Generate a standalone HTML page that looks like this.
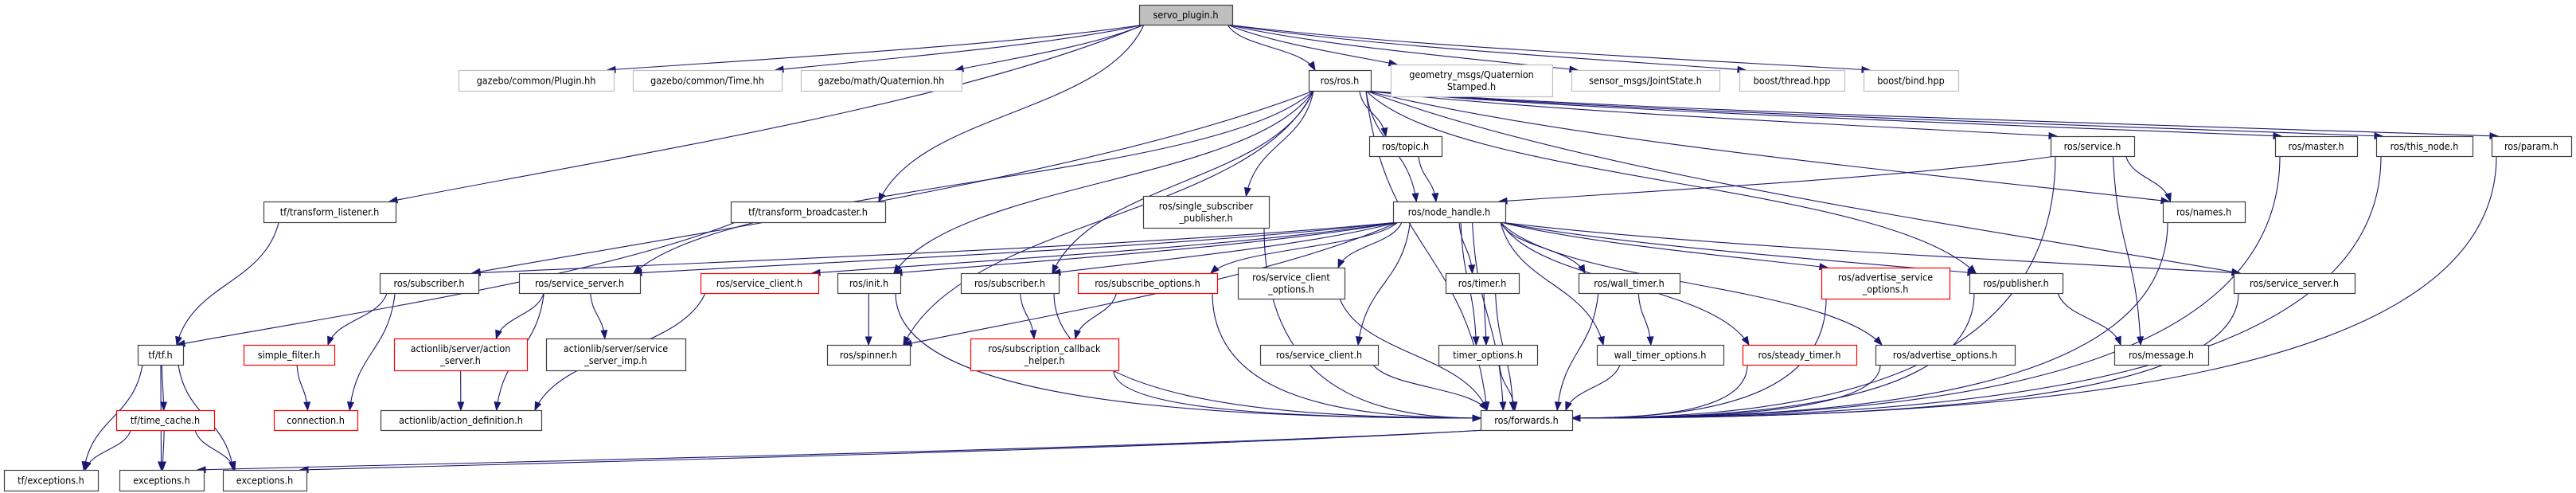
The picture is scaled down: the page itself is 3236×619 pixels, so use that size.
<!DOCTYPE html>
<html><head><meta charset="utf-8">
<style>
html,body{margin:0;padding:0;background:#fff;}
svg{display:block;}
text{font-family:"DejaVu Sans Condensed","DejaVu Sans","Liberation Sans",sans-serif;font-size:12.5px;fill:#000;}
</style></head>
<body>
<svg id="g" width="3236" height="619" viewBox="0 0 3236 619" xmlns="http://www.w3.org/2000/svg">
<g id="edges" fill="none" stroke="#191970" stroke-width="1.1"></g>
<g id="heads" fill="#191970" stroke="#191970"></g>
<g id="nodes"></g>
</svg>
<script>
var N={
servo:[1431,6,1548,31,['servo_plugin.h'],'f'],
plug:[576,88,771,114,['gazebo/common/Plugin.hh'],'g'],
time:[795,88,982,114,['gazebo/common/Time.hh'],'g'],
quat:[1006,88,1208,114,['gazebo/math/Quaternion.hh'],'g'],
ros:[1644,88,1722,114,['ros/ros.h'],'b'],
qs:[1747,81,1950,121,['geometry_msgs/Quaternion','Stamped.h'],'g'],
js:[1974,88,2160,114,['sensor_msgs/JointState.h'],'g'],
thr:[2185,88,2317,114,['boost/thread.hpp'],'g'],
bind:[2341,88,2460,114,['boost/bind.hpp'],'g'],
topic:[1720,171,1811,196,['ros/topic.h'],'b'],
service:[2576,171,2681,196,['ros/service.h'],'b'],
master:[2858,171,2961,196,['ros/master.h'],'b'],
thisn:[2985,171,3106,196,['ros/this_node.h'],'b'],
param:[3130,171,3230,196,['ros/param.h'],'b'],
tl:[331,253,497,279,['tf/transform_listener.h'],'b'],
tb:[918,253,1112,279,['tf/transform_broadcaster.h'],'b'],
ssp:[1436,246,1594,286,['ros/single_subscriber','_publisher.h'],'b'],
nh:[1750,253,1891,279,['ros/node_handle.h'],'b'],
names:[2717,253,2820,279,['ros/names.h'],'b'],
subL:[477,343,601,368,['ros/subscriber.h'],'b'],
ssL:[652,343,804,368,['ros/service_server.h'],'b'],
sc:[880,343,1028,368,['ros/service_client.h'],'r'],
init:[1052,343,1131,368,['ros/init.h'],'b'],
subM:[1207,343,1330,368,['ros/subscriber.h'],'b'],
so:[1354,343,1529,368,['ros/subscribe_options.h'],'r'],
sco:[1555,336,1689,375,['ros/service_client','_options.h'],'b'],
timer:[1816,343,1908,368,['ros/timer.h'],'b'],
wt:[1983,343,2110,368,['ros/wall_timer.h'],'b'],
aso:[2288,336,2449,375,['ros/advertise_service','_options.h'],'r'],
pub:[2474,343,2591,368,['ros/publisher.h'],'b'],
ssR:[2806,343,2958,368,['ros/service_server.h'],'b'],
tf:[173,433,230,458,['tf/tf.h'],'b'],
sf:[306,433,420,458,['simple_filter.h'],'r'],
as:[495,425,662,465,['actionlib/server/action','_server.h'],'r'],
ssi:[686,425,861,465,['actionlib/server/service','_server_imp.h'],'b'],
spin:[1039,433,1143,458,['ros/spinner.h'],'b'],
sch:[1219,425,1405,465,['ros/subscription_callback','_helper.h'],'r'],
sc2:[1583,433,1731,458,['ros/service_client.h'],'b'],
to:[1807,433,1931,458,['timer_options.h'],'b'],
wto:[2006,433,2165,458,['wall_timer_options.h'],'b'],
st:[2189,433,2332,458,['ros/steady_timer.h'],'r'],
ao:[2356,433,2531,458,['ros/advertise_options.h'],'b'],
msg:[2656,433,2774,458,['ros/message.h'],'b'],
tc:[146,515,269,540,['tf/time_cache.h'],'r'],
conn:[344,515,449,540,['connection.h'],'r'],
ad:[478,515,680,540,['actionlib/action_definition.h'],'b'],
fw:[1860,515,1975,540,['ros/forwards.h'],'b'],
tfe:[5,590,123,616,['tf/exceptions.h'],'b'],
ex1:[150,590,256,616,['exceptions.h'],'b'],
ex2:[280,590,385,616,['exceptions.h'],'b']
};
var E=[
['servo','plug'],['servo','time'],['servo','quat'],['servo','ros'],['servo','qs'],['servo','js'],['servo','thr'],['servo','bind'],['servo','tl'],['servo','tb'],
['tl','tf'],['tb','tf'],['tf','tfe'],['tf','ex1'],['tf','tc'],['tf','ex2'],['tc','tfe'],['tc','ex1'],['tc','ex2'],
['subL','conn'],['subL','sf'],['sf','conn'],['ssL','as'],['ssL','ssi'],['ssL','ad'],['as','ad'],['sc','ad'],
['ros','topic'],['ros','nh'],['ros','ssp'],['ros','subL'],['ros','ssL'],['ros','init'],['ros','spin'],['ros','service'],['ros','names'],['ros','master'],['ros','thisn'],['ros','param'],['ros','pub'],['ros','ssR'],['ros','fw'],['ros','subM'],
['topic','nh'],['service','nh'],['service','names'],['service','msg'],['service','fw'],
['nh','subL'],['nh','ssL'],['nh','sc'],['nh','init'],['nh','spin'],['nh','subM'],['nh','so'],['nh','sco'],['nh','sc2'],['nh','timer'],['nh','to'],['nh','wt'],['nh','wto'],['nh','st'],['nh','ao'],['nh','aso'],['nh','pub'],['nh','ssR'],['nh','fw'],
['init','spin'],['init','fw'],['subM','sch'],['subM','fw'],['so','sch'],['so','fw'],['sch','fw'],['sco','fw'],['sc2','fw'],['ssp','fw'],
['timer','to'],['timer','fw'],['to','fw'],['wt','wto'],['wt','fw'],['wto','fw'],['st','fw'],['ao','fw'],['aso','fw'],
['pub','msg'],['pub','fw'],['names','fw'],['ssR','fw'],['master','fw'],['thisn','fw'],['param','fw'],
['fw','ex1'],['fw','ex2']
];
var NS='http://www.w3.org/2000/svg';
function el(t,a,p){var e=document.createElementNS(NS,t);for(var k in a)e.setAttribute(k,a[k]);p.appendChild(e);return e;}
var ge=document.getElementById('edges'),gh=document.getElementById('heads'),gn=document.getElementById('nodes');
function cl(v,a,b){return Math.max(a,Math.min(b,v));}
E.forEach(function(e){
 var s=N[e[0]],t=N[e[1]];
 var scx=(s[0]+s[2])/2,tcx=(t[0]+t[2])/2;
 var x0,y0,x3,y3,c1x,c1y,c2x,c2y;
 var dxc=tcx-scx;
 if(e[1]=='fw' && Math.abs(dxc)>300){
  var sg=dxc>0?1:-1;
  x0=scx+cl(dxc*0.3,-(s[2]-s[0])/2+6,(s[2]-s[0])/2-6);y0=s[3];
  x3=sg>0?t[0]:t[2];y3=t[1]+(t[3]-t[1])*0.4;
  var d=y3-y0;
  c1x=x0;c1y=y0+d*0.85;
  c2x=x3-sg*Math.abs(x3-x0)*0.5;c2y=y3;
 } else if(t[1]>=s[3]+5){
  x0=scx+cl(dxc*0.3,-(s[2]-s[0])/2+6,(s[2]-s[0])/2-6);y0=s[3];
  x3=tcx+cl((scx-tcx)*0.3,-(t[2]-t[0])/2+8,(t[2]-t[0])/2-8);y3=t[1];
  var dy=y3-y0;
  if(Math.abs(x3-x0)>4*dy){
   c1x=x0+(x3-x0)*0.25;c1y=y0+dy*0.45;c2x=x0+(x3-x0)*0.7;c2y=y3-dy*0.25;
  } else {
   c1x=x0+(x3-x0)*0.15;c1y=y0+dy*0.5;c2x=x3-(x3-x0)*0.15;c2y=y3-dy*0.5;
  }
 } else {
  x0=s[0]+10;y0=s[3]-5;x3=t[2];y3=(t[1]+t[3])/2;
  c1x=x0-300;c1y=y0+20;c2x=x3+300;c2y=y3-10;
 }
 el('path',{d:'M'+x0+','+y0+' C'+c1x+','+c1y+' '+c2x+','+c2y+' '+x3+','+y3},ge);
 var dx=x3-c2x,dyy=y3-c2y,L=Math.sqrt(dx*dx+dyy*dyy)||1;dx/=L;dyy/=L;
 var bx=x3-dx*10,by=y3-dyy*10,px=-dyy*3.8,py=dx*3.8;
 el('polygon',{points:x3+','+y3+' '+(bx+px)+','+(by+py)+' '+(bx-px)+','+(by-py)},gh);
});
for(var k in N){var n=N[k];
 var st=n[5]=='r'?'#ff0000':(n[5]=='g'?'#bfbfbf':'#404040');
 el('rect',{x:n[0]+.5,y:n[1]+.5,width:n[2]-n[0],height:n[3]-n[1],fill:n[5]=='f'?'#bfbfbf':'#fff',stroke:st,'stroke-width':1.2},gn);
 var cx=(n[0]+n[2])/2,cy=(n[1]+n[3])/2;
 if(n[4].length==1){var t=el('text',{x:cx,y:cy+4.5,'text-anchor':'middle'},gn);t.textContent=n[4][0];}
 else{var t1=el('text',{x:cx,y:cy-3,'text-anchor':'middle'},gn);t1.textContent=n[4][0];
      var t2=el('text',{x:cx,y:cy+12,'text-anchor':'middle'},gn);t2.textContent=n[4][1];}
}
</script>
</body></html>
